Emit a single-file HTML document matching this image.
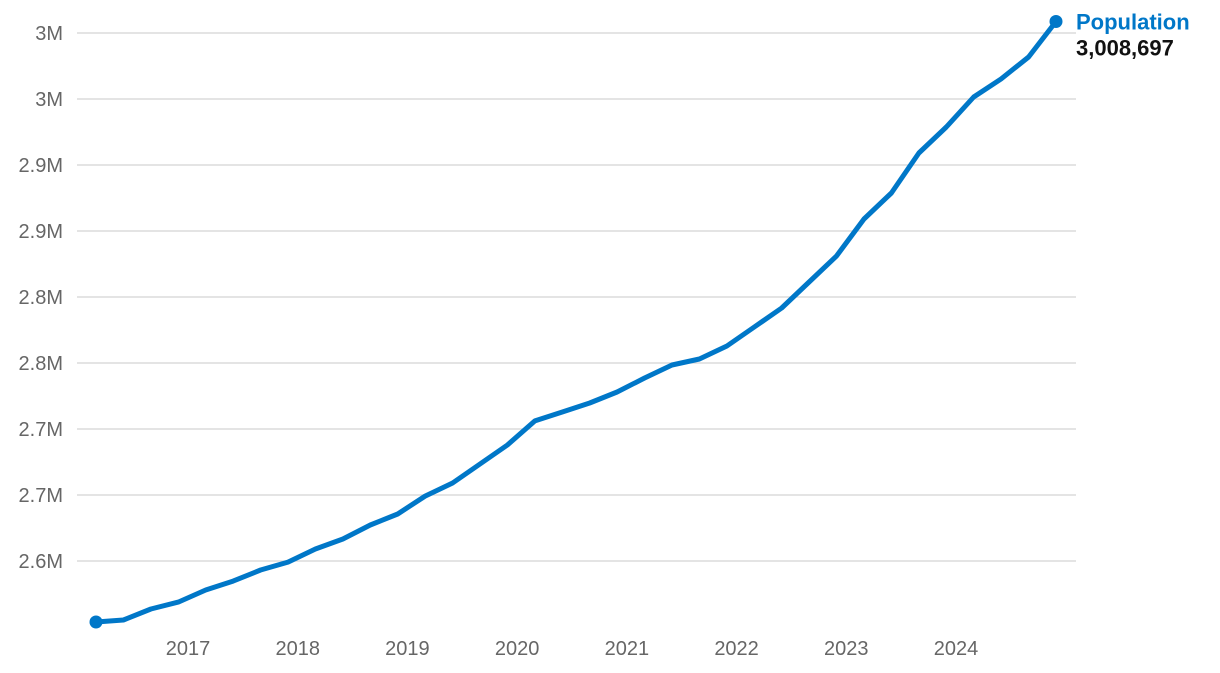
<!DOCTYPE html>
<html><head><meta charset="utf-8"><style>
body{margin:0;background:#fff;width:1220px;height:668px;overflow:hidden;font-family:"Liberation Sans",sans-serif}
</style></head><body>
<svg id="chart" width="1220" height="668" xmlns="http://www.w3.org/2000/svg"></svg>
<script>
const values=[2553800,2555300,2563600,2568900,2578000,2584800,2593200,2599200,2609100,2616700,2627300,2635600,2649200,2659100,2673500,2687900,2706100,2712900,2719700,2728000,2738600,2748500,2753000,2762900,2777300,2791700,2811400,2831100,2859100,2878800,2909100,2928800,2951500,2965200,2981800,3008697];
const yTicks=[2600000,2650000,2700000,2750000,2800000,2850000,2900000,2950000,3000000];
const yTickLabels=["2.6M","2.7M","2.7M","2.8M","2.8M","2.9M","2.9M","3M","3M"];
const xYears=[2017,2018,2019,2020,2021,2022,2023,2024];
const seriesName="Population";
const lastLabel="3,008,697";
const t0=2016.16;
const NS="http://www.w3.org/2000/svg";
const svg=document.getElementById('chart');
function y(v){return 561-(v-2600000)/50000*66;}
function xi(i){return 96+i*(1056-96)/(values.length-1);}
function xt(t){return 96+(t-t0)*4*(1056-96)/(values.length-1);}
function mk(tag,attrs){const e=document.createElementNS(NS,tag);for(const k in attrs)e.setAttribute(k,attrs[k]);svg.appendChild(e);return e;}
yTicks.forEach((v,k)=>{
  const l=mk('line',{x1:77,x2:1076,y1:y(v),y2:y(v),stroke:'#d4d4d4','stroke-width':1.2});
  
  
  const t=mk('text',{x:63,y:y(v)+7,'text-anchor':'end','font-size':20,fill:'#666'});
  t.textContent=yTickLabels[k];
  
  
});
xYears.forEach(yr=>{
  const t=mk('text',{x:xt(yr+0.0)+(188-xt(2017)),y:655,'text-anchor':'middle','font-size':20,fill:'#666'});
  t.textContent=yr;
  
  
});
const d=values.map((v,i)=>(i?'L':'M')+xi(i).toFixed(1)+','+y(v).toFixed(1)).join(' ');
const p=mk('path',{d:d,fill:'none',stroke:'#0077c8','stroke-width':5,'stroke-linejoin':'round','stroke-linecap':'round'});


const n=values.length-1;
const c1=mk('circle',{cx:xi(0),cy:y(values[0]),r:6.5,fill:'#0077c8'});


const c2=mk('circle',{cx:xi(n),cy:y(values[n]),r:6.5,fill:'#0077c8'});


const s=mk('text',{x:1076,y:y(values[n])+8,'font-size':22,'font-weight':'bold',fill:'#0077c8'});
s.textContent=seriesName;


const v=mk('text',{x:1076,y:y(values[n])+34,'font-size':22,'font-weight':'bold',fill:'#111'});
v.textContent=lastLabel;


</script>
</body></html>
